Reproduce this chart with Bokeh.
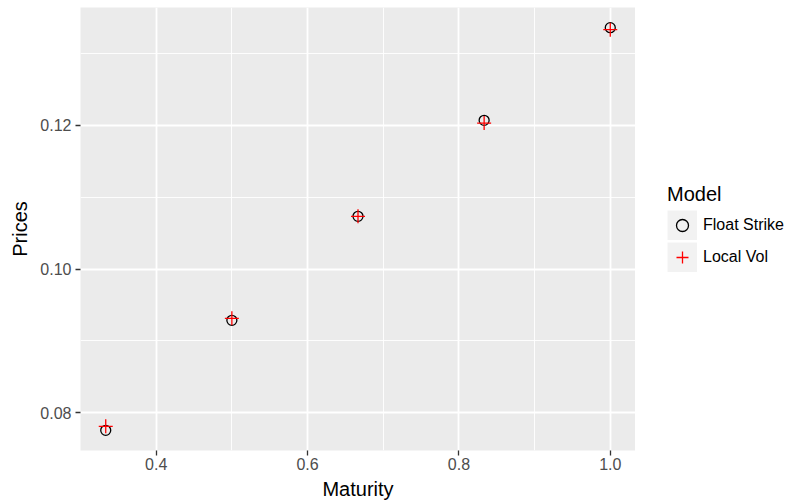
from bokeh.plotting import figure
from bokeh.layouts import row
from bokeh.models import (ColumnDataSource, Range1d, FixedTicker, Legend, LegendItem)
from bokeh.embed import file_html
from bokeh.resources import INLINE

# Option prices by maturity for two pricing models
maturity = [1/3, 1/2, 2/3, 5/6, 1.0]
float_strike = [0.07754, 0.09286, 0.10734, 0.12070, 0.13361]
local_vol = [0.07810, 0.09314, 0.10734, 0.12032, 0.13333]

x_major = [0.4, 0.6, 0.8, 1.0]
x_minor = [0.3, 0.5, 0.7, 0.9]
y_major = [0.08, 0.10, 0.12]
y_minor = [0.07, 0.09, 0.11, 0.13]
x_labels = ["0.4", "0.6", "0.8", "1.0"]
y_labels = ["0.08", "0.10", "0.12"]

FONT = "Liberation Sans"
FS_STYLE = dict(marker="circle", size=10, fill_color=None, line_color="black", line_width=1.3)
LV_STYLE = dict(marker="cross", size=14, line_color="#FF0000", line_width=1.3)


def expanded(vals, frac=0.05):
    lo, hi = min(vals), max(vals)
    pad = (hi - lo) * frac
    return lo - pad, hi + pad


x0, x1 = expanded(maturity)
y0, y1 = expanded(float_strike + local_vol)

src = ColumnDataSource(dict(x=maturity, fs=float_strike, lv=local_vol))

# ---- main panel ----
p = figure(width=635, height=504, output_backend="svg", toolbar_location=None,
           x_range=Range1d(x0, x1), y_range=Range1d(y0, y1),
           min_border_left=80, min_border_top=7, min_border_right=0,
           min_border_bottom=54)
p.background_fill_color = "#EBEBEB"
p.border_fill_color = "white"
p.outline_line_color = None

# grid: white major and minor lines
for ax, major, minor in ((p.xaxis, x_major, x_minor), (p.yaxis, y_major, y_minor)):
    ax.ticker = FixedTicker(ticks=major, minor_ticks=minor)
for g in (p.xgrid, p.ygrid):
    g.grid_line_color = "white"
    g.grid_line_width = 1.8
    g.minor_grid_line_color = "white"
    g.minor_grid_line_width = 0.9

p.xaxis.major_label_overrides = {v: s for v, s in zip(x_major, x_labels)}
p.yaxis.major_label_overrides = {v: s for v, s in zip(y_major, y_labels)}

for ax in (p.xaxis[0], p.yaxis[0]):
    ax.axis_line_color = None
    ax.major_tick_line_color = "#333333"
    ax.major_tick_line_width = 1.3
    ax.major_tick_in = 0
    ax.major_tick_out = 5
    ax.minor_tick_line_color = None
    ax.major_label_text_color = "#4D4D4D"
    ax.major_label_text_font = FONT
    ax.major_label_text_font_size = "16px"
    ax.axis_label_text_font = FONT
    ax.axis_label_text_font_size = "20px"
    ax.axis_label_text_font_style = "normal"
    ax.axis_label_text_color = "black"

p.xaxis.axis_label = "Maturity"
p.yaxis.axis_label = "Prices"
p.xaxis.major_label_standoff = 2
p.yaxis.major_label_standoff = 4
p.xaxis.axis_label_standoff = 5
p.yaxis.axis_label_standoff = 6

p.scatter("x", "fs", source=src, **FS_STYLE)
p.scatter("x", "lv", source=src, **LV_STYLE)

# ---- legend area to the right of the panel ----
lg = figure(width=155, height=504, output_backend="svg", toolbar_location=None,
            x_range=Range1d(0, 1), y_range=Range1d(0, 1),
            x_axis_type=None, y_axis_type=None, min_border=0)
lg.outline_line_color = None
lg.xgrid.visible = False
lg.ygrid.visible = False
lg.background_fill_color = "white"
lg.border_fill_color = "white"

# key renderers: one undrawn (NaN) row so the legend has an entry to style from
nan = float("nan")
keysrc = ColumnDataSource(dict(x=[nan], y=[nan]))
key_bg = lg.line("x", "y", source=keysrc, line_color="#F2F2F2", line_width=30,
                 line_cap="butt")
k_fs = lg.scatter("x", "y", source=keysrc, **FS_STYLE)
k_lv = lg.scatter("x", "y", source=keysrc, **LV_STYLE)

legend = Legend(items=[
    LegendItem(label="Float Strike", renderers=[key_bg, k_fs], index=0),
    LegendItem(label="Local Vol", renderers=[key_bg, k_lv], index=0),
])
legend.title = "Model"
legend.title_text_font = FONT
legend.title_text_font_size = "20px"
legend.title_text_font_style = "normal"
legend.title_text_color = "black"
legend.title_standoff = 4
legend.label_text_font = FONT
legend.label_text_font_size = "16px"
legend.label_text_color = "black"
legend.label_standoff = 6
legend.label_height = 20
legend.glyph_width = 30
legend.glyph_height = 30
legend.spacing = 2
legend.padding = 0
legend.margin = 0
legend.border_line_color = None
legend.background_fill_color = None
legend.location = (32, 178)
lg.add_layout(legend)

open("out.html", "w").write(file_html(row(p, lg), INLINE))
